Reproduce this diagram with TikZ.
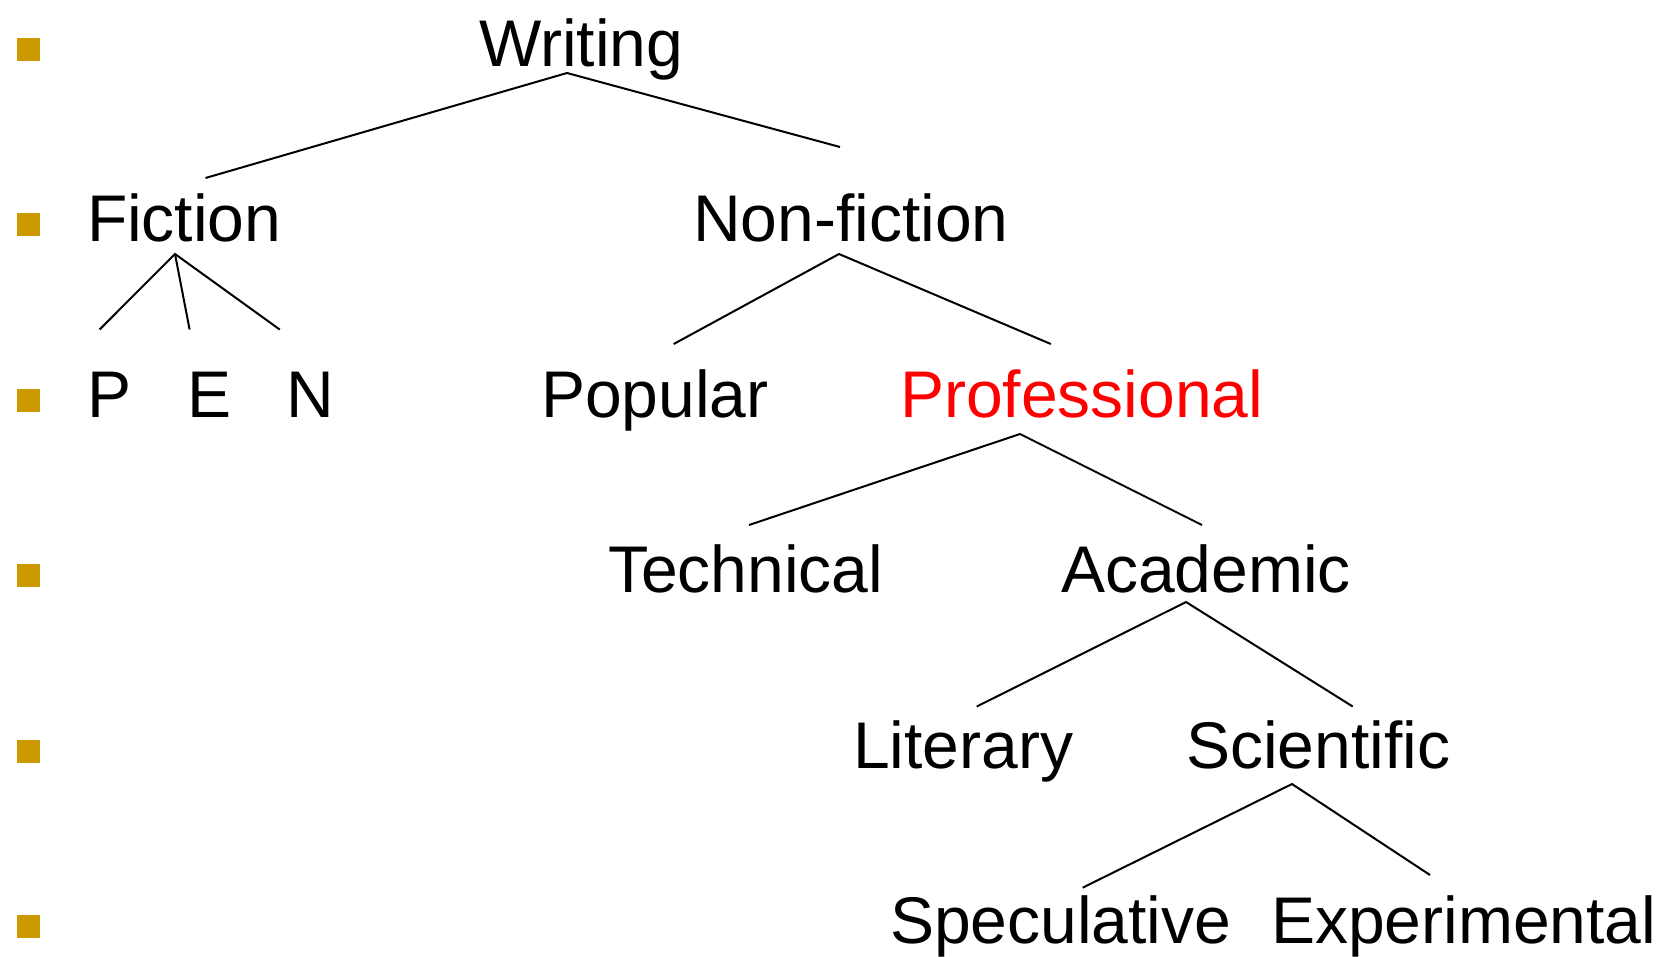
\documentclass[tikz,border=0pt]{standalone}
\usepackage{fontspec}
\setmainfont{Liberation Sans}
\definecolor{bulletgold}{RGB}{204,153,0}
\definecolor{profred}{RGB}{255,0,0}
\begin{document}
\begin{tikzpicture}[x=1pt,y=-1pt,
  lbl/.style={anchor=base west,inner sep=0pt,outer sep=0pt,font=\fontsize{66}{79}\selectfont},
  bul/.style={fill=bulletgold,draw=none,minimum size=23pt,inner sep=0pt},
  edge/.style={line width=2pt,black}]
\useasboundingbox (0,0) rectangle (1661,956);
% bullets
\foreach \i/\y in {1/49,2/224.5,3/400,4/575.5,5/751,6/926.5}
  \node[bul] (b\i) at (28.5,\y) {};
% labels
\node[lbl] (writing) at (479,66) {Writing};
\node[lbl] (fiction) at (87,241.5) {Fiction};
\node[lbl] (nonfiction) at (693,241.5) {Non-fiction};
\node[lbl] (p) at (87,417) {P};
\node[lbl] (e) at (187.5,417) {E};
\node[lbl] (n) at (286,417) {N};
\node[lbl] (popular) at (541,417) {Popular};
\node[lbl,text=profred] (professional) at (900,417) {Professional};
\node[lbl] (technical) at (608,592) {Technical};
\node[lbl] (academic) at (1061,592) {Academic};
\node[lbl] (literary) at (853,768) {Literary};
\node[lbl] (scientific) at (1186,768) {Scientific};
\node[lbl] (speculative) at (890,943) {Speculative};
\node[lbl] (experimental) at (1271,943) {Experimental};
% connector ends
\coordinate (writingB) at (567,73);
\coordinate (fictionT) at (205.5,178);
\coordinate (nonfictionT) at (840,147);
\coordinate (fictionB) at (175,254);
\coordinate (pT) at (99.6,329.5);
\coordinate (eT) at (189.6,329.5);
\coordinate (nT) at (279.7,329.5);
\coordinate (nonfictionB) at (839,254);
\coordinate (popularT) at (673.7,344);
\coordinate (professionalT) at (1050.8,344);
\coordinate (professionalB) at (1020,434);
\coordinate (technicalT) at (749,525);
\coordinate (academicT) at (1202,525);
\coordinate (academicB) at (1186,602);
\coordinate (literaryT) at (976.7,706.5);
\coordinate (scientificT) at (1352.7,706.5);
\coordinate (scientificB) at (1292,784);
\coordinate (speculativeT) at (1082.6,887.7);
\coordinate (experimentalT) at (1430,875);
% connectors
\draw[edge] (fictionT) -- (writingB) -- (nonfictionT);
\draw[edge] (pT) -- (fictionB) -- (nT);
\draw[edge] (fictionB) -- (eT);
\draw[edge] (popularT) -- (nonfictionB) -- (professionalT);
\draw[edge] (technicalT) -- (professionalB) -- (academicT);
\draw[edge] (literaryT) -- (academicB) -- (scientificT);
\draw[edge] (speculativeT) -- (scientificB) -- (experimentalT);
\end{tikzpicture}
\end{document}
